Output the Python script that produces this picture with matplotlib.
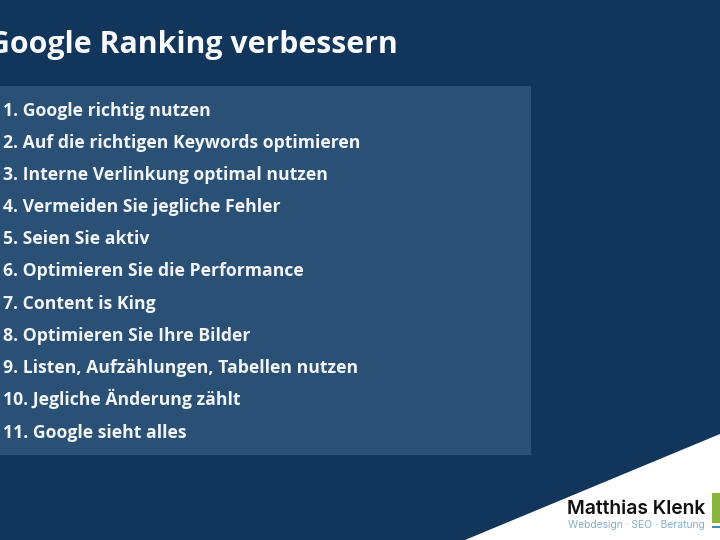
import matplotlib
matplotlib.use('Agg')
from matplotlib import pyplot as plt
from matplotlib.patches import Rectangle, Polygon

title = 'Google Ranking verbessern'
items = ['1. Google richtig nutzen',
         '2. Auf die richtigen Keywords optimieren',
         '3. Interne Verlinkung optimal nutzen',
         '4. Vermeiden Sie jegliche Fehler',
         '5. Seien Sie aktiv',
         '6. Optimieren Sie die Performance',
         '7. Content is King',
         '8. Optimieren Sie Ihre Bilder',
         '9. Listen, Aufzählungen, Tabellen nutzen',
         '10. Jegliche Änderung zählt',
         '11. Google sieht alles']
brand = 'Matthias Klenk'
claim = 'Webdesign · SEO · Beratung'

plt.rcParams['font.family'] = ['Open Sans', 'DejaVu Sans']

fig = plt.figure(figsize=(7.2, 5.4), dpi=100, facecolor='#12355b')
ax = fig.add_axes([0, 0, 1, 1])
ax.set_xlim(0, 720)
ax.set_ylim(540, 0)
ax.axis('off')

# list box
ax.add_patch(Rectangle((0, 86), 531, 369, color='#2a5075', lw=0))
# title runs off the left edge in the original too
ax.text(-12, 53, title, color='#f7f9fb', fontsize=21.8, fontweight='bold', va='baseline')

for n, item in enumerate(items):
    ax.text(3, 115.5 + n*32.2, item, color='#f2f5f8', fontsize=12.7, fontweight='bold', va='baseline')

# logo corner
ax.add_patch(Polygon([(465, 540), (720, 434), (720, 540)], color='white', lw=0))
ax.add_patch(Rectangle((712, 493), 8, 30, color='#8ab53f', lw=0))
ax.add_patch(Rectangle((712, 526), 8, 2, color='#3f8fb5', lw=0))
ax.text(567, 514, brand, color='#111111', fontsize=13.9, fontweight='semibold', family=['Inter', 'DejaVu Sans'], va='baseline')
ax.text(568, 527.5, claim, color='#7fb0cf', fontsize=7.4, family=['Inter', 'DejaVu Sans'], va='baseline')

fig.savefig('out.png', dpi=100)
